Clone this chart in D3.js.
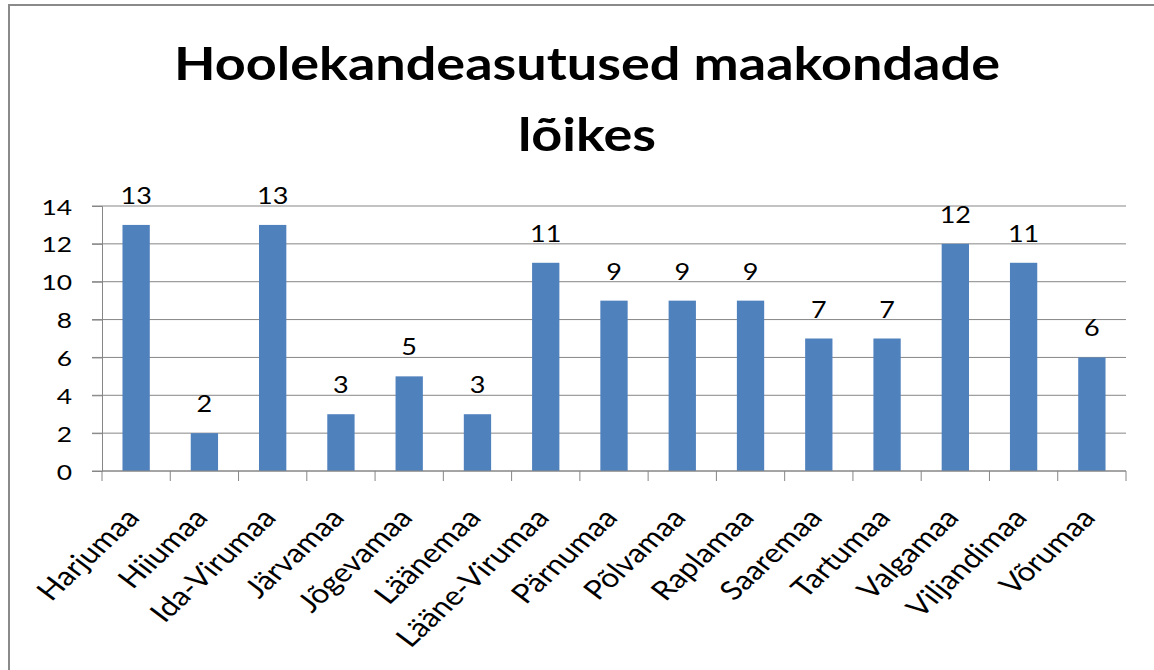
<!DOCTYPE html>
<html>
<head>
<meta charset="utf-8">
<script src="https://cdn.jsdelivr.net/npm/d3@7"></script>
<style>
  body { margin: 0; background: #fff; }
  text { font-family: Lato, "Open Sans", sans-serif; }
</style>
</head>
<body>
<script>
// Andmed
const maakonnad = ["Harjumaa", "Hiiumaa", "Ida-Virumaa", "Järvamaa", "Jõgevamaa", "Läänemaa",
  "Lääne-Virumaa", "Pärnumaa", "Põlvamaa", "Raplamaa", "Saaremaa", "Tartumaa",
  "Valgamaa", "Viljandimaa", "Võrumaa"];
const asutused = [13, 2, 13, 3, 5, 3, 11, 9, 9, 9, 7, 7, 12, 11, 6];
const yTicks = [0, 2, 4, 6, 8, 10, 12, 14];
const pealkiri = ["Hoolekandeasutused maakondade", "lõikes"];

const W = 1154, H = 670;
const plot = {left: 102, right: 1126, top: 206, bottom: 471};
const sx = 1.2; // pilt on horisontaalselt veidi venitatud

const svg = d3.select("body").append("svg")
  .attr("width", W)
  .attr("height", H);

// raam
svg.append("rect")
  .attr("x", 9).attr("y", 5)
  .attr("width", 1200).attr("height", 700)
  .attr("fill", "none")
  .attr("stroke", "#8a8a8a")
  .attr("stroke-width", 2);

// pealkiri
svg.append("g").selectAll("text")
  .data(pealkiri)
  .enter().append("text")
  .attr("transform", (d, i) => "translate(587," + (80 + i * 71) + ") scale(" + sx + ",1)")
  .attr("text-anchor", "middle")
  .style("font-size", "45px")
  .style("font-weight", "bold")
  .text(d => d);

const x = d3.scaleBand().domain(maakonnad).range([plot.left, plot.right]).paddingInner(0).paddingOuter(0);
const y = d3.scaleLinear().domain([0, 14]).range([plot.bottom, plot.top]);
const barW = x.bandwidth() / 2.5;

// ruudustik
svg.append("g").selectAll("line")
  .data(yTicks)
  .enter().append("line")
  .attr("x1", plot.left - 10).attr("x2", plot.right)
  .attr("y1", d => y(d)).attr("y2", d => y(d))
  .attr("stroke", "#868686")
  .attr("stroke-width", 1);

// y-telg
const yAxis = svg.append("g")
  .attr("transform", "translate(" + plot.left + ",0)")
  .call(d3.axisLeft(y).tickValues(yTicks).tickSize(10).tickPadding(0));
yAxis.select(".domain").attr("stroke", "#868686");
yAxis.selectAll(".tick line").attr("stroke", "#868686");
yAxis.selectAll("text")
  .attr("x", null).attr("dy", null)
  .attr("transform", "translate(-30,8) scale(" + sx + ",1)")
  .style("font-size", "22px").attr("fill", "#000");

// tulbad
svg.append("g").selectAll("rect")
  .data(asutused)
  .enter().append("rect")
  .attr("x", (d, i) => x(maakonnad[i]) + (x.bandwidth() - barW) / 2)
  .attr("y", d => y(d))
  .attr("width", barW)
  .attr("height", d => y(0) - y(d))
  .attr("fill", "#4F81BD");

// väärtused
svg.append("g").selectAll("text")
  .data(asutused)
  .enter().append("text")
  .attr("transform", (d, i) => "translate(" + (x(maakonnad[i]) + x.bandwidth() / 2) + "," + (y(d) - 21) + ") scale(" + sx + ",1)")
  .attr("text-anchor", "middle")
  .style("font-size", "22.5px")
  .text(d => d);

// x-telg
const xAxisG = svg.append("g");
xAxisG.append("line")
  .attr("x1", plot.left).attr("x2", plot.right)
  .attr("y1", plot.bottom).attr("y2", plot.bottom)
  .attr("stroke", "#868686");
const bounds = maakonnad.map(m => x(m)).concat([plot.right]);
xAxisG.selectAll(".xt")
  .data(bounds)
  .enter().append("line")
  .attr("x1", d => d).attr("x2", d => d)
  .attr("y1", plot.bottom).attr("y2", plot.bottom + 10)
  .attr("stroke", "#868686");

xAxisG.selectAll(".cat")
  .data(maakonnad)
  .enter().append("text")
  .attr("text-anchor", "end")
  .attr("transform", d => "translate(" + (x(d) + x.bandwidth() / 2 + 5) + "," + (plot.bottom + 48) + ") scale(" + sx + ",1) rotate(-48)")
  .style("font-size", "26.5px")
  .text(d => d);
</script>
</body>
</html>
